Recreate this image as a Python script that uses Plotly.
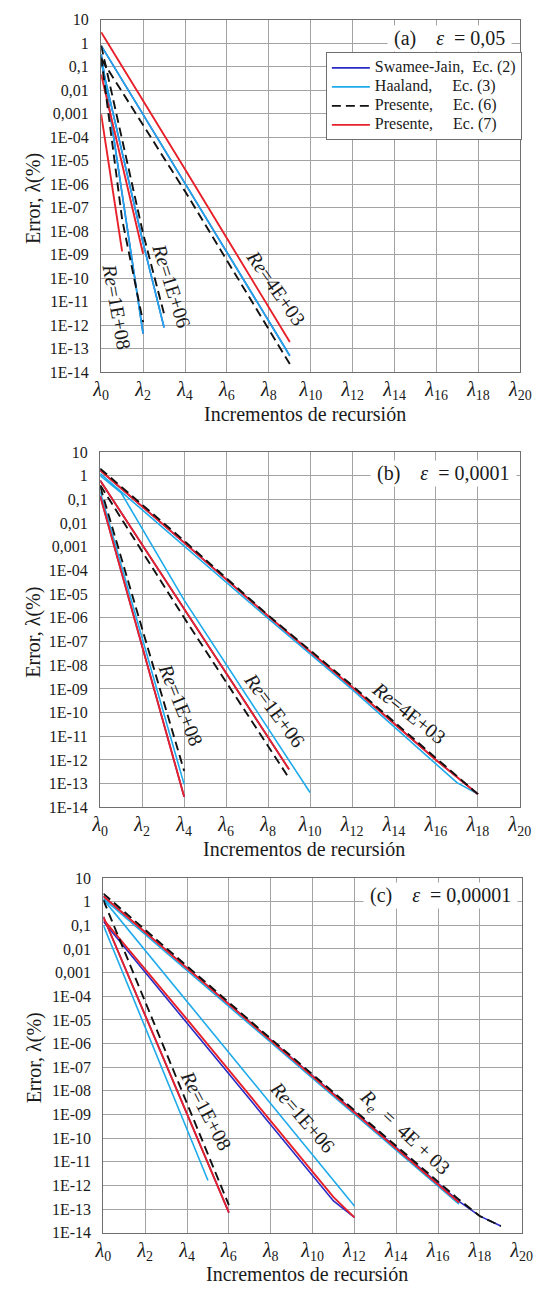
import math
import plotly.graph_objects as go

W, H = 542, 1290

# ---------------- axis ticks ----------------
LAMBDA_TICKS = [0, 2, 4, 6, 8, 10, 12, 14, 16, 18, 20]
LAMBDA_LABELS = ["<i>λ</i><sub>%d</sub>" % k for k in LAMBDA_TICKS]
Y_TICKS = [10, 1, 0.1, 0.01, 0.001, 1e-4, 1e-5, 1e-6, 1e-7, 1e-8, 1e-9,
           1e-10, 1e-11, 1e-12, 1e-13, 1e-14]
Y_LABELS = ["10", "1", "0,1", "0,01", "0,001", "1E-04", "1E-05", "1E-06",
            "1E-07", "1E-08", "1E-09", "1E-10", "1E-11", "1E-12", "1E-13", "1E-14"]

# ---------------- panel (a)  eps = 0,05 ----------------
A_4E3_X_SJ = [0, 9];        A_4E3_Y_SJ = [0.8, 5e-14]
A_4E3_X_HA = [0, 9];        A_4E3_Y_HA = [0.8, 5e-14]
A_4E3_X_E6 = [0, 4, 9];     A_4E3_Y_E6 = [0.22, 5e-7, 2.2e-14]
A_4E3_X_E7 = [0, 4, 9];     A_4E3_Y_E7 = [3.0, 4.4e-6, 1.9e-13]

A_1E6_X_SJ = [0, 1, 2, 3];  A_1E6_Y_SJ = [0.16, 2e-5, 3.2e-9, 8e-13]
A_1E6_X_HA = [0, 1, 2, 3];  A_1E6_Y_HA = [0.16, 2e-5, 3.2e-9, 8e-13]
A_1E6_X_E6 = [0, 1, 2, 3];  A_1E6_Y_E6 = [0.8, 8e-5, 8e-9, 3e-12]
A_1E6_X_E7 = [0, 2];        A_1E6_Y_E7 = [0.047, 1.1e-9]

A_1E8_X_SJ = [0, 1, 2];     A_1E8_Y_SJ = [0.35, 3.2e-7, 4.4e-13]
A_1E8_X_HA = [0, 1, 2];     A_1E8_Y_HA = [0.35, 3.2e-7, 4.4e-13]
A_1E8_X_E6 = [0, 1, 2];     A_1E8_Y_E6 = [0.25, 3.2e-8, 1.35e-12]
A_1E8_X_E7 = [0, 1];        A_1E8_Y_E7 = [9.5e-4, 1.4e-9]

# ---------------- panel (b)  eps = 0,0001 ----------------
B_4E3_X_SJ = [0, 4, 8, 12, 16, 18]; B_4E3_Y_SJ = [1.7, 1.5e-3, 1.2e-6, 1.2e-9, 1e-12, 3.6e-14]
B_4E3_X_HA = [0, 4, 8, 12, 17, 18]; B_4E3_Y_HA = [1.23, 1.1e-3, 9.5e-7, 9.5e-10, 1.1e-13, 3.6e-14]
B_4E3_X_E6 = [0, 4, 8, 12, 16, 18]; B_4E3_Y_E6 = [2.0, 1.8e-3, 1.3e-6, 1.4e-9, 1.2e-12, 3.6e-14]
B_4E3_X_E7 = [0, 4, 8, 12, 16, 18]; B_4E3_Y_E7 = [1.7, 1.5e-3, 1.2e-6, 1.2e-9, 1e-12, 3.6e-14]

B_1E6_X_SJ = [0, 4, 9];     B_1E6_Y_SJ = [0.63, 2.5e-6, 4e-13]
B_1E6_X_HA = [0, 1, 4, 10]; B_1E6_Y_HA = [1.0, 0.19, 5.6e-6, 4.2e-14]
B_1E6_X_E6 = [0, 4, 9];     B_1E6_Y_E6 = [0.4, 1e-6, 1.7e-13]
B_1E6_X_E7 = [0, 4, 9];     B_1E6_Y_E7 = [0.63, 2.5e-6, 4e-13]

B_1E8_X_SJ = [0, 4];        B_1E8_Y_SJ = [0.14, 2.8e-14]
B_1E8_X_HA = [0, 4];        B_1E8_Y_HA = [0.21, 9.3e-14]
B_1E8_X_E6 = [0, 4];        B_1E8_Y_E6 = [0.35, 3.4e-13]
B_1E8_X_E7 = [0, 4];        B_1E8_Y_E7 = [0.14, 2.8e-14]

# ---------------- panel (c)  eps = 0,00001 ----------------
C_4E3_X_SJ = [0, 17, 18, 19]; C_4E3_Y_SJ = [1.7, 2.1e-13, 5e-14, 1.9e-14]
C_4E3_X_HA = [0, 17];         C_4E3_Y_HA = [1.35, 1.6e-13]
C_4E3_X_E6 = [0, 8, 17, 18, 19]; C_4E3_Y_E6 = [2.2, 1.6e-6, 2.5e-13, 5e-14, 1.9e-14]
C_4E3_X_E7 = [0, 17];         C_4E3_Y_E7 = [1.7, 1.9e-13]

C_1E6_X_SJ = [0, 4, 11, 12];  C_1E6_Y_SJ = [0.145, 7.6e-6, 2.2e-13, 4.4e-14]
C_1E6_X_HA = [0, 12];         C_1E6_Y_HA = [1.26, 1.35e-13]
C_1E6_X_E7 = [0, 4, 11, 12];  C_1E6_Y_E7 = [0.18, 1.05e-5, 3.2e-13, 4.4e-14]

C_1E8_X_SJ = [0, 6];          C_1E8_Y_SJ = [0.23, 7e-14]
C_1E8_X_HA = [0, 5];          C_1E8_Y_HA = [0.1, 1.6e-12]
C_1E8_X_E6 = [0, 6];          C_1E8_Y_E6 = [1.17, 1.45e-13]
C_1E8_X_E7 = [0, 6];          C_1E8_Y_E7 = [0.23, 7e-14]

NB = "\u00a0"
METHOD_NAMES = {
    "SJ": "Swamee-Jain," + NB * 2 + "Ec. (2)",
    "HA": "Haaland," + NB * 5 + "Ec. (3)",
    "E6": "Presente," + NB * 5 + "Ec. (6)",
    "E7": "Presente," + NB * 5 + "Ec. (7)",
}
STYLE = {
    "SJ": dict(color="#2a2ac4", width=1.6),
    "HA": dict(color="#1eaaeb", width=1.6),
    "E7": dict(color="#e8202a", width=1.9),
    "E6": dict(color="#111111", width=1.9, dash="9px,5px"),
}
DRAW_ORDER = ["SJ", "HA", "E7", "E6"]
LEGEND_RANK = {"SJ": 1, "HA": 2, "E6": 3, "E7": 4}

PANEL_SERIES = [
    [(A_4E3_X_SJ, A_4E3_Y_SJ, "SJ"), (A_4E3_X_HA, A_4E3_Y_HA, "HA"), (A_4E3_X_E6, A_4E3_Y_E6, "E6"), (A_4E3_X_E7, A_4E3_Y_E7, "E7"),
     (A_1E6_X_SJ, A_1E6_Y_SJ, "SJ"), (A_1E6_X_HA, A_1E6_Y_HA, "HA"), (A_1E6_X_E6, A_1E6_Y_E6, "E6"), (A_1E6_X_E7, A_1E6_Y_E7, "E7"),
     (A_1E8_X_SJ, A_1E8_Y_SJ, "SJ"), (A_1E8_X_HA, A_1E8_Y_HA, "HA"), (A_1E8_X_E6, A_1E8_Y_E6, "E6"), (A_1E8_X_E7, A_1E8_Y_E7, "E7")],
    [(B_4E3_X_SJ, B_4E3_Y_SJ, "SJ"), (B_4E3_X_HA, B_4E3_Y_HA, "HA"), (B_4E3_X_E6, B_4E3_Y_E6, "E6"), (B_4E3_X_E7, B_4E3_Y_E7, "E7"),
     (B_1E6_X_SJ, B_1E6_Y_SJ, "SJ"), (B_1E6_X_HA, B_1E6_Y_HA, "HA"), (B_1E6_X_E6, B_1E6_Y_E6, "E6"), (B_1E6_X_E7, B_1E6_Y_E7, "E7"),
     (B_1E8_X_SJ, B_1E8_Y_SJ, "SJ"), (B_1E8_X_HA, B_1E8_Y_HA, "HA"), (B_1E8_X_E6, B_1E8_Y_E6, "E6"), (B_1E8_X_E7, B_1E8_Y_E7, "E7")],
    [(C_4E3_X_SJ, C_4E3_Y_SJ, "SJ"), (C_4E3_X_HA, C_4E3_Y_HA, "HA"), (C_4E3_X_E6, C_4E3_Y_E6, "E6"), (C_4E3_X_E7, C_4E3_Y_E7, "E7"),
     (C_1E6_X_SJ, C_1E6_Y_SJ, "SJ"), (C_1E6_X_HA, C_1E6_Y_HA, "HA"), (C_1E6_X_E7, C_1E6_Y_E7, "E7"),
     (C_1E8_X_SJ, C_1E8_Y_SJ, "SJ"), (C_1E8_X_HA, C_1E8_Y_HA, "HA"), (C_1E8_X_E6, C_1E8_Y_E6, "E6"), (C_1E8_X_E7, C_1E8_Y_E7, "E7")],
]

PANEL_TITLES = [NB + "(a)" + NB * 4 + "<i>ε</i>" + NB * 2 + "=" + NB + "0,05" + NB,
                NB + "(b)" + NB * 4 + "<i>ε</i>" + NB * 2 + "=" + NB + "0,0001" + NB,
                NB + "(c)" + NB * 4 + "<i>ε</i>" + NB * 2 + "=" + NB + "0,00001" + NB]

# plot-area boxes in pixels (left, right, top, bottom)
BOXES = [(95.7, 531.0, 12.0, 369.0), (94.7, 530.5, 450.0, 810.0), (98.0, 532.4, 881.7, 1241.0)]

# label placements in pixels: (text, cx, cy, angle, box length)
RE_LABELS = [
    [("<i>Re</i>=1E+08", 112.5, 302.5, 80, 96), ("<i>Re</i>=1E+06", 169, 281.7, 72.6, 96),
     ("<i>Re</i>=4E+03", 277.5, 283.3, 55, 100)],
    [("<i>Re</i>=1E+08", 178.5, 706.5, 68, 100), ("<i>Re</i>=1E+06", 275.7, 711.7, 53.4, 104),
     ("<i>Re</i>=4E+03", 416, 714, 38.4, 108)],
    [("<i>Re</i>=1E+08", 204.6, 1116.7, 62.5, 104), ("<i>Re</i>=1E+06", 305, 1124, 49, 104),
     ("<i>R<sub>e</sub></i>" + NB * 2 + "=" + NB * 2 + "4E" + NB + "+" + NB + "03", 410, 1140, 43, 118)],
]
TITLE_POS = [(457.0, 31.0), (451.0, 471.5), (448.0, 899.0)]

FONT = "Liberation Serif"
TXT = "#1a1a1a"

fig = go.Figure()
shown = set()
for p, series in enumerate(PANEL_SERIES):
    xa = "x" if p == 0 else "x%d" % (p + 1)
    ya = "y" if p == 0 else "y%d" % (p + 1)
    for m in DRAW_ORDER:
        for xs, ys, mm in series:
            if mm != m:
                continue
            show = (p == 0 and m not in shown)
            if show:
                shown.add(m)
            fig.add_trace(go.Scatter(
                x=xs, y=ys, mode="lines", line=STYLE[m],
                name="<span style='font-size:16px'>" + METHOD_NAMES[m] + "</span>",
                legendgroup=m, showlegend=show, legendrank=LEGEND_RANK[m],
                xaxis=xa, yaxis=ya, hoverinfo="skip"))


def px(x):
    return x / W


def py(y):
    return 1 - y / H


def rot_box(cx, cy, length, height, ang):
    a = math.radians(ang)
    ux, uy = math.cos(a), math.sin(a)
    nx, ny = -math.sin(a), math.cos(a)
    pts = []
    for su, sn in [(-1, -1), (1, -1), (1, 1), (-1, 1)]:
        X = cx + su * length / 2 * ux + sn * height / 2 * nx
        Y = cy + su * length / 2 * uy + sn * height / 2 * ny
        pts.append("%.5f,%.5f" % (px(X), py(Y)))
    return "M" + " L".join(pts) + " Z"


layout = dict(
    width=W, height=H, margin=dict(l=0, r=0, t=0, b=0),
    paper_bgcolor="white", plot_bgcolor="white",
    font=dict(family=FONT, size=16, color=TXT),
    showlegend=True,
    legend=dict(x=px(329), y=py(45), xanchor="left", yanchor="top",
                bgcolor="white", bordercolor="#6e6e6e", borderwidth=1,
                font=dict(family=FONT, size=11.5, color=TXT),
                tracegroupgap=0, itemwidth=38),
)
annotations = []
shapes = []
for p, (l, r, t, b) in enumerate(BOXES):
    sx = "" if p == 0 else str(p + 1)
    layout["xaxis" + sx] = dict(
        domain=[px(l), px(r)], anchor="y" + sx, range=[0, 20],
        tickvals=LAMBDA_TICKS, ticktext=LAMBDA_LABELS,
        tickfont=dict(family=FONT, size=20, color=TXT),
        ticklabeloverflow="allow",
        showgrid=True, gridcolor="#a3a3a3", gridwidth=1.4,
        showline=True, linecolor="#6e6e6e", linewidth=1.3, mirror=True,
        zeroline=False, ticks="", ticklabelstandoff=-1)
    layout["yaxis" + sx] = dict(
        domain=[py(b), py(t)], anchor="x" + sx, type="log", range=[-14, 1],
        tickvals=Y_TICKS, ticktext=Y_LABELS,
        tickfont=dict(family=FONT, size=16, color=TXT),
        ticklabeloverflow="allow",
        showgrid=True, gridcolor="#a3a3a3", gridwidth=1.4,
        showline=True, linecolor="#6e6e6e", linewidth=1.3, mirror=True,
        zeroline=False, ticks="", ticklabelstandoff=8)
    # panel title box
    tx, ty = TITLE_POS[p]
    annotations.append(dict(text=PANEL_TITLES[p], x=px(tx), y=py(ty), xref="paper", yref="paper",
                            xanchor="center", yanchor="middle",
                            showarrow=False, font=dict(family=FONT, size=20, color=TXT),
                            bgcolor="white", borderpad=1))
    for text, cx, cy, ang, blen in RE_LABELS[p]:
        shapes.append(dict(type="path", path=rot_box(cx, cy, blen, 28, ang),
                           xref="paper", yref="paper", fillcolor="white",
                           line=dict(width=0), layer="between"))
        annotations.append(dict(text=text, x=px(cx), y=py(cy), xref="paper", yref="paper",
                                xanchor="center", yanchor="middle",
                                showarrow=False, textangle=ang,
                                font=dict(family=FONT, size=20, color=TXT)))
    # axis titles
    annotations.append(dict(text="Incrementos de recursión", x=px((l + r) / 2 - 6), y=py(b + 42),
                            xref="paper", yref="paper", showarrow=False,
                            xanchor="center", yanchor="middle",
                            font=dict(family=FONT, size=20, color=TXT)))
    annotations.append(dict(text="Error, λ(%)", x=px(26), y=py((t + b) / 2 + 3),
                            xref="paper", yref="paper", showarrow=False, textangle=-90,
                            xanchor="center", yanchor="middle",
                            font=dict(family=FONT, size=20, color=TXT)))

layout["annotations"] = annotations
layout["shapes"] = shapes
fig.update_layout(**layout)
fig.write_html("out.html")
